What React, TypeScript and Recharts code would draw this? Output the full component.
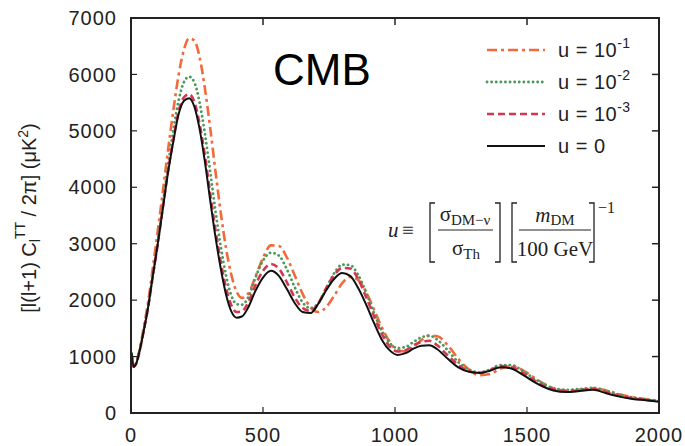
import { LineChart, Line, XAxis, YAxis } from 'recharts';

// multipole grid shared by all four spectra
const ell = [
  2, 10, 20, 35, 50, 65, 80, 100, 120, 140, 160, 180, 200, 220, 240, 260, 280, 300, 320, 340,
  360, 380, 400, 420, 445, 470, 500, 530, 560, 590, 620, 650, 680, 710, 740, 770, 800, 830, 860, 890,
  920, 950, 980, 1010, 1040, 1070, 1100, 1130, 1160, 1200, 1240, 1280, 1320, 1360, 1400, 1440, 1480, 1520, 1560, 1600,
  1650, 1700, 1750, 1800, 1850, 1900, 1950, 2000,
];

// u = 10^-1
const clU1 = [
  1060, 830, 900, 1180, 1560, 1970, 2480, 3180, 3900, 4650, 5350, 5980, 6430, 6640, 6600, 6300, 5750, 5050, 4280, 3550,
  2920, 2450, 2150, 2040, 2120, 2400, 2750, 2970, 2960, 2760, 2440, 2110, 1870, 1790, 1880, 2080, 2300, 2410, 2360, 2150,
  1840, 1520, 1260, 1110, 1090, 1170, 1290, 1370, 1360, 1200, 960, 770, 670, 690, 790, 830, 770, 650, 530, 440,
  400, 415, 440, 400, 330, 280, 245, 215,
];

// u = 10^-2
const clU2 = [
  1060, 820, 880, 1150, 1500, 1880, 2350, 2980, 3680, 4380, 5000, 5530, 5860, 5960, 5860, 5500, 4950, 4280, 3580, 2950,
  2440, 2080, 1930, 1920, 2060, 2380, 2700, 2840, 2790, 2550, 2230, 1960, 1860, 1950, 2210, 2480, 2630, 2620, 2450, 2140,
  1780, 1460, 1240, 1150, 1170, 1260, 1340, 1370, 1300, 1110, 900, 770, 720, 770, 850, 850, 760, 630, 520, 440,
  410, 425, 445, 395, 325, 275, 242, 212,
];

// u = 10^-3
const clU3 = [
  1060, 820, 880, 1150, 1500, 1880, 2350, 2960, 3620, 4280, 4840, 5340, 5590, 5650, 5510, 5120, 4560, 3890, 3240, 2680,
  2220, 1910, 1790, 1800, 1970, 2250, 2520, 2640, 2560, 2320, 2050, 1860, 1810, 1950, 2220, 2450, 2570, 2560, 2380, 2060,
  1720, 1400, 1180, 1090, 1110, 1200, 1260, 1280, 1200, 1020, 850, 740, 710, 760, 830, 820, 720, 600, 490, 420,
  385, 400, 425, 370, 305, 262, 232, 205,
];

// u = 0
const clU0 = [
  1060, 820, 880, 1150, 1500, 1880, 2350, 2950, 3600, 4250, 4800, 5290, 5530, 5580, 5430, 5030, 4450, 3770, 3120, 2560,
  2100, 1800, 1690, 1710, 1880, 2150, 2400, 2520, 2430, 2200, 1950, 1790, 1770, 1940, 2180, 2380, 2480, 2430, 2220, 1930,
  1600, 1300, 1110, 1030, 1060, 1140, 1190, 1200, 1130, 960, 810, 730, 710, 750, 810, 790, 690, 570, 470, 400,
  370, 390, 410, 350, 290, 250, 225, 200,
];

const xTicks = [0, 500, 1000, 1500, 2000];
const yTicks = [0, 1000, 2000, 3000, 4000, 5000, 6000, 7000];
const legendExps = ['-1', '-2', '-3', ''];

const xMax = 2000;
const yMax = 7000;

const chartData = ell.map((l, i) => ({
  l,
  u1: clU1[i],
  u2: clU2[i],
  u3: clU3[i],
  u0: clU0[i],
}));

const series = [
  { key: 'u1', color: '#f26a3c', dash: '10 4 3 4', width: 2.6, cap: 'butt' },
  { key: 'u2', color: '#4a9a5c', dash: '0.1 4.5', width: 2.8, cap: 'round' },
  { key: 'u3', color: '#d23850', dash: '7 4', width: 2.6, cap: 'butt' },
  { key: 'u0', color: '#111111', dash: undefined, width: 2, cap: 'butt' },
];

const W = 685;
const H = 446;
const margin = { top: 18, right: 26, bottom: 3, left: 0 };
const yAxisWidth = 131;
const xAxisHeight = 30;
// plot box (matches what the chart computes from the margins above)
const plot = {
  left: margin.left + yAxisWidth,
  top: margin.top,
  right: W - margin.right,
  bottom: H - margin.bottom - xAxisHeight,
};

const sans = '"Liberation Sans", Arial, sans-serif';
const serif = '"Liberation Serif", "Times New Roman", serif';
const axisColor = '#222';

function YLabel() {
  return (
    <text
      transform="translate(36,218) rotate(-90)"
      textAnchor="middle"
      fontSize={20}
      fontFamily={sans}
      fill="#222"
    >
      [l(l+1) C
      <tspan fontSize={14} dy={4}>l</tspan>
      <tspan fontSize={14} dy={-15}>TT</tspan>
      <tspan dy={11}> / 2π] (μK</tspan>
      <tspan fontSize={14} dy={-8}>2</tspan>
      <tspan dy={8}>)</tspan>
    </text>
  );
}

function Overlay() {
  const rows = [50, 82, 114, 146];
  const px = (t: number) => plot.left + (t / xMax) * (plot.right - plot.left);
  const py = (t: number) => plot.bottom - (t / yMax) * (plot.bottom - plot.top);
  return (
    <svg width={W} height={H} style={{ position: 'absolute', left: 0, top: 0, pointerEvents: 'none' }}>
      <text x={273} y={85} fontSize={44} fontFamily={sans} fill="#000">CMB</text>

      {series.map((s, i) => (
        <g key={s.key}>
          <line
            x1={487}
            x2={545}
            y1={rows[i]}
            y2={rows[i]}
            stroke={s.color}
            strokeWidth={s.width}
            strokeDasharray={s.dash}
            strokeLinecap={s.cap as any}
          />
          <text x={558} y={rows[i] + 7} fontSize={20} fontFamily={sans} fill="#222" letterSpacing={0.5}>
            {legendExps[i] ? 'u = 10' : 'u = 0'}
            {legendExps[i] && (
              <tspan fontSize={14} dy={-9}>{legendExps[i]}</tspan>
            )}
          </text>
        </g>
      ))}

      <g fontFamily={serif} fill="#222" fontSize={21}>
        <text x={388} y={237} fontStyle="italic">u</text>
        <text x={402} y={237}>≡</text>
        <path d="M435 203 H430 V262 H435" fill="none" stroke="#222" strokeWidth={1.3} />
        <text x={465} y={221} textAnchor="middle">
          σ<tspan fontSize={15} dy={4}>DM−ν</tspan>
        </text>
        <line x1={438} x2={493} y1={230} y2={230} stroke="#222" strokeWidth={1} />
        <text x={466} y={255} textAnchor="middle">
          σ<tspan fontSize={15} dy={4}>Th</tspan>
        </text>
        <path d="M495 203 H500 V262 H495" fill="none" stroke="#222" strokeWidth={1.3} />
        <path d="M517 203 H512 V262 H517" fill="none" stroke="#222" strokeWidth={1.3} />
        <text x={555} y={222} textAnchor="middle">
          <tspan fontStyle="italic">m</tspan>
          <tspan fontSize={15} dy={3}>DM</tspan>
        </text>
        <line x1={519} x2={591} y1={230} y2={230} stroke="#222" strokeWidth={1} />
        <text x={555} y={256} textAnchor="middle">100 GeV</text>
        <path d="M589 203 H594 V262 H589" fill="none" stroke="#222" strokeWidth={1.3} />
        <text x={598} y={213} fontSize={16}>−1</text>
      </g>

      {/* top and right side of the frame, with inward ticks */}
      <rect
        x={plot.left}
        y={plot.top}
        width={plot.right - plot.left}
        height={plot.bottom - plot.top}
        fill="none"
        stroke={axisColor}
        strokeWidth={2}
      />
      {xTicks.map((t) => (
        <line key={'tx' + t} x1={px(t)} x2={px(t)} y1={plot.top} y2={plot.top + 7} stroke={axisColor} strokeWidth={1.5} />
      ))}
      {yTicks.map((t) => (
        <line key={'ty' + t} x1={plot.right} x2={plot.right - 7} y1={py(t)} y2={py(t)} stroke={axisColor} strokeWidth={1.5} />
      ))}
    </svg>
  );
}

export default function App() {
  const tickStyle = { fontSize: 20, fill: '#222', fontFamily: sans, letterSpacing: 1 };
  return (
    <div style={{ position: 'fixed', left: 0, top: 0, width: W, height: H, background: '#fff' }}>
      <LineChart width={W} height={H} data={chartData} margin={margin}>
        <XAxis
          dataKey="l"
          type="number"
          domain={[0, xMax]}
          ticks={xTicks}
          height={xAxisHeight}
          tickSize={-6}
          tickMargin={21}
          tick={tickStyle}
          axisLine={{ stroke: axisColor, strokeWidth: 1.5 }}
          tickLine={{ stroke: axisColor, strokeWidth: 1.2 }}
          interval={0}
        />
        <YAxis
          type="number"
          domain={[0, yMax]}
          ticks={yTicks}
          width={yAxisWidth}
          tickSize={-6}
          tickMargin={20}
          tick={tickStyle}
          axisLine={{ stroke: axisColor, strokeWidth: 1.5 }}
          tickLine={{ stroke: axisColor, strokeWidth: 1.2 }}
          interval={0}
          label={{ content: () => <YLabel /> }}
        />
        {series.map((s) => (
          <Line
            key={s.key}
            dataKey={s.key}
            type="monotone"
            stroke={s.color}
            strokeWidth={s.width}
            strokeDasharray={s.dash}
            strokeLinecap={s.cap as any}
            dot={false}
            activeDot={false}
            isAnimationActive={false}
          />
        ))}
      </LineChart>
      <Overlay />
    </div>
  );
}
